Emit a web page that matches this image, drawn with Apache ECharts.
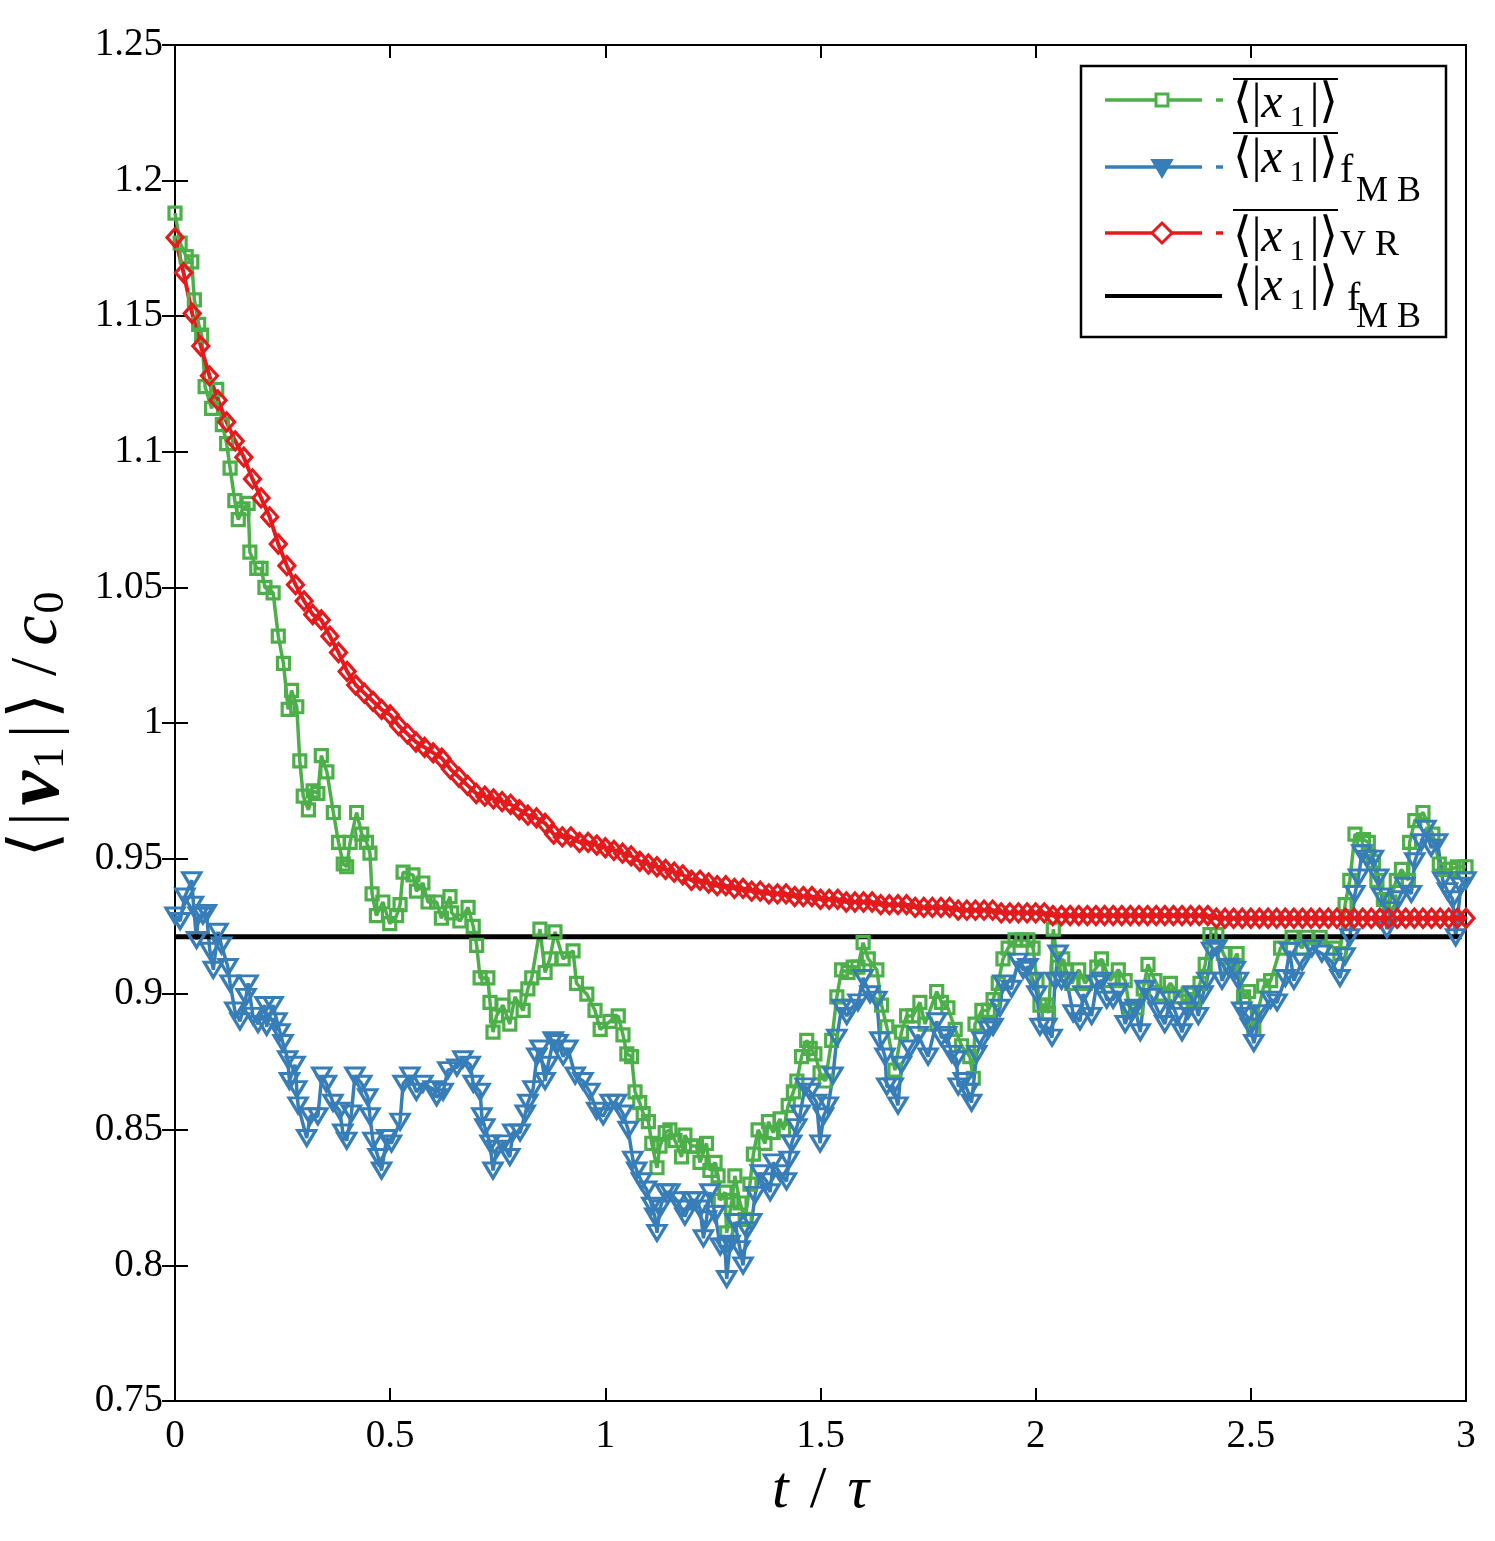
<!DOCTYPE html>
<html>
<head>
<meta charset="utf-8">
<script src="https://cdn.jsdelivr.net/npm/echarts@6/dist/echarts.min.js"></script>
<style>
html,body{margin:0;padding:0;background:#fff;}
#c{width:1495px;height:1541px;}
</style>
</head>
<body>
<div id="c"></div>
<script>
// ---------------- data ----------------
const xTicks = [0, 0.5, 1, 1.5, 2, 2.5, 3];
const yTicks = [0.75, 0.8, 0.85, 0.9, 0.95, 1, 1.05, 1.1, 1.15, 1.2, 1.25];

// green: time-average <|x1|>  [t/tau, value]
const greenData = [
[0.000,1.188],[0.012,1.177],[0.026,1.172],[0.039,1.170],[0.045,1.156],[0.055,1.147],[0.062,1.143],
[0.070,1.124],[0.085,1.116],[0.097,1.123],[0.110,1.110],[0.120,1.103],[0.128,1.094],[0.139,1.082],
[0.147,1.075],[0.158,1.079],[0.170,1.081],[0.174,1.063],[0.190,1.057],[0.200,1.057],[0.209,1.050],
[0.228,1.048],[0.240,1.032],[0.252,1.022],[0.263,1.005],[0.271,1.012],[0.283,1.006],[0.290,0.986],
[0.298,0.973],[0.310,0.968],[0.321,0.975],[0.332,0.974],[0.340,0.988],[0.353,0.982],[0.368,0.967],
[0.380,0.956],[0.391,0.948],[0.399,0.947],[0.407,0.956],[0.422,0.967],[0.434,0.959],[0.445,0.956],
[0.453,0.952],[0.458,0.937],[0.468,0.929],[0.483,0.934],[0.499,0.926],[0.515,0.929],[0.523,0.933],
[0.530,0.945],[0.553,0.944],[0.561,0.938],[0.576,0.941],[0.588,0.934],[0.608,0.934],[0.619,0.928],
[0.639,0.936],[0.643,0.930],[0.662,0.927],[0.681,0.932],[0.693,0.925],[0.701,0.918],[0.709,0.906],
[0.727,0.906],[0.732,0.897],[0.739,0.886],[0.747,0.892],[0.762,0.896],[0.778,0.889],[0.790,0.899],
[0.809,0.894],[0.820,0.902],[0.829,0.906],[0.848,0.924],[0.860,0.908],[0.871,0.913],[0.883,0.923],
[0.902,0.913],[0.925,0.916],[0.933,0.904],[0.957,0.900],[0.976,0.894],[0.988,0.887],[1.011,0.890],
[1.030,0.892],[1.041,0.885],[1.050,0.878],[1.061,0.877],[1.069,0.864],[1.080,0.860],[1.088,0.856],
[1.100,0.853],[1.108,0.845],[1.120,0.836],[1.127,0.844],[1.139,0.849],[1.150,0.850],[1.162,0.846],
[1.177,0.840],[1.185,0.848],[1.200,0.844],[1.212,0.844],[1.220,0.838],[1.235,0.845],[1.243,0.835],
[1.255,0.838],[1.262,0.833],[1.267,0.824],[1.278,0.827],[1.282,0.812],[1.294,0.824],[1.301,0.833],
[1.313,0.823],[1.325,0.817],[1.336,0.830],[1.344,0.841],[1.355,0.850],[1.371,0.845],[1.379,0.853],
[1.390,0.849],[1.406,0.854],[1.414,0.850],[1.425,0.859],[1.437,0.864],[1.445,0.868],[1.456,0.877],
[1.468,0.883],[1.476,0.880],[1.487,0.878],[1.499,0.871],[1.511,0.868],[1.526,0.883],[1.538,0.899],
[1.549,0.909],[1.564,0.908],[1.576,0.910],[1.587,0.910],[1.599,0.919],[1.611,0.913],[1.631,0.909],
[1.642,0.896],[1.654,0.888],[1.673,0.872],[1.688,0.886],[1.700,0.892],[1.715,0.892],[1.731,0.897],
[1.743,0.889],[1.770,0.901],[1.781,0.897],[1.796,0.895],[1.813,0.887],[1.828,0.881],[1.847,0.877],
[1.855,0.869],[1.859,0.889],[1.875,0.894],[1.890,0.894],[1.901,0.898],[1.913,0.904],[1.924,0.913],
[1.936,0.917],[1.952,0.920],[1.968,0.920],[1.982,0.920],[1.994,0.917],[2.003,0.905],[2.010,0.896],
[2.026,0.896],[2.030,0.893],[2.041,0.924],[2.052,0.910],[2.063,0.913],[2.070,0.909],[2.084,0.904],
[2.100,0.909],[2.115,0.904],[2.142,0.910],[2.153,0.913],[2.173,0.905],[2.192,0.909],[2.208,0.905],
[2.219,0.894],[2.235,0.895],[2.250,0.902],[2.261,0.911],[2.277,0.905],[2.296,0.900],[2.313,0.904],
[2.336,0.899],[2.354,0.900],[2.366,0.898],[2.382,0.904],[2.394,0.911],[2.405,0.922],[2.421,0.922],
[2.436,0.915],[2.452,0.910],[2.468,0.915],[2.483,0.899],[2.495,0.901],[2.507,0.887],[2.530,0.903],
[2.546,0.905],[2.569,0.917],[2.596,0.921],[2.619,0.917],[2.630,0.921],[2.661,0.921],[2.693,0.917],
[2.707,0.915],[2.719,0.933],[2.730,0.942],[2.742,0.959],[2.762,0.957],[2.773,0.956],[2.785,0.949],
[2.793,0.942],[2.808,0.935],[2.823,0.934],[2.838,0.942],[2.850,0.946],[2.866,0.942],[2.869,0.956],
[2.881,0.964],[2.900,0.967],[2.923,0.959],[2.938,0.948],[2.950,0.946],[2.965,0.946],[2.980,0.947],
[3.000,0.947]
];

// blue: time-average <|x1|> with f_MB
const blueData = [
[0.000,0.929],[0.012,0.927],[0.023,0.936],[0.039,0.942],[0.043,0.933],[0.050,0.920],[0.054,0.929],
[0.065,0.929],[0.073,0.930],[0.081,0.916],[0.089,0.909],[0.100,0.923],[0.108,0.918],[0.123,0.910],
[0.128,0.904],[0.139,0.894],[0.151,0.890],[0.165,0.899],[0.170,0.904],[0.181,0.892],[0.193,0.889],
[0.209,0.896],[0.213,0.888],[0.228,0.896],[0.237,0.890],[0.244,0.886],[0.251,0.882],[0.262,0.876],
[0.266,0.868],[0.279,0.874],[0.283,0.865],[0.286,0.859],[0.306,0.847],[0.314,0.855],[0.332,0.855],
[0.341,0.870],[0.352,0.867],[0.367,0.860],[0.383,0.857],[0.390,0.849],[0.399,0.846],[0.410,0.856],
[0.418,0.870],[0.434,0.867],[0.448,0.862],[0.453,0.855],[0.460,0.846],[0.472,0.840],[0.480,0.835],
[0.492,0.847],[0.503,0.845],[0.523,0.853],[0.530,0.867],[0.546,0.870],[0.561,0.864],[0.576,0.867],
[0.600,0.865],[0.608,0.862],[0.623,0.864],[0.634,0.872],[0.655,0.873],[0.669,0.876],[0.686,0.874],
[0.693,0.867],[0.709,0.864],[0.713,0.855],[0.720,0.851],[0.732,0.845],[0.739,0.835],[0.748,0.843],
[0.762,0.845],[0.778,0.840],[0.785,0.849],[0.802,0.849],[0.814,0.856],[0.820,0.860],[0.832,0.865],
[0.841,0.877],[0.848,0.880],[0.860,0.868],[0.867,0.874],[0.879,0.883],[0.890,0.882],[0.902,0.877],
[0.913,0.880],[0.930,0.870],[0.948,0.868],[0.964,0.864],[0.980,0.857],[0.995,0.855],[1.011,0.860],
[1.026,0.860],[1.041,0.856],[1.053,0.850],[1.064,0.839],[1.073,0.835],[1.084,0.831],[1.096,0.828],
[1.108,0.822],[1.115,0.818],[1.120,0.812],[1.127,0.821],[1.139,0.827],[1.150,0.827],[1.166,0.824],
[1.177,0.821],[1.185,0.818],[1.200,0.824],[1.212,0.824],[1.220,0.821],[1.228,0.810],[1.235,0.817],
[1.243,0.827],[1.255,0.819],[1.267,0.807],[1.278,0.807],[1.282,0.795],[1.290,0.808],[1.301,0.816],
[1.313,0.806],[1.320,0.800],[1.329,0.813],[1.340,0.816],[1.348,0.826],[1.360,0.834],[1.375,0.831],
[1.383,0.827],[1.390,0.838],[1.406,0.834],[1.421,0.831],[1.427,0.839],[1.433,0.845],[1.445,0.851],
[1.453,0.856],[1.464,0.866],[1.476,0.864],[1.491,0.860],[1.499,0.845],[1.507,0.855],[1.518,0.859],
[1.529,0.870],[1.538,0.884],[1.549,0.895],[1.561,0.892],[1.572,0.895],[1.587,0.897],[1.599,0.906],
[1.615,0.900],[1.631,0.898],[1.638,0.883],[1.650,0.877],[1.654,0.866],[1.669,0.866],[1.680,0.859],
[1.688,0.874],[1.708,0.880],[1.727,0.885],[1.750,0.877],[1.770,0.890],[1.781,0.884],[1.793,0.885],
[1.805,0.878],[1.816,0.876],[1.820,0.866],[1.832,0.868],[1.843,0.864],[1.851,0.860],[1.863,0.878],
[1.875,0.883],[1.890,0.887],[1.901,0.888],[1.917,0.895],[1.924,0.904],[1.944,0.902],[1.959,0.912],
[1.971,0.909],[1.982,0.910],[1.994,0.905],[2.003,0.900],[2.010,0.888],[2.026,0.888],[2.038,0.884],
[2.045,0.905],[2.052,0.915],[2.060,0.905],[2.072,0.905],[2.087,0.893],[2.103,0.890],[2.110,0.900],
[2.130,0.892],[2.142,0.904],[2.153,0.905],[2.165,0.898],[2.180,0.898],[2.192,0.901],[2.208,0.889],
[2.219,0.894],[2.231,0.895],[2.243,0.886],[2.254,0.902],[2.269,0.899],[2.284,0.894],[2.300,0.889],
[2.313,0.898],[2.328,0.892],[2.340,0.886],[2.354,0.894],[2.366,0.900],[2.378,0.892],[2.389,0.900],
[2.398,0.905],[2.409,0.916],[2.421,0.917],[2.433,0.905],[2.448,0.910],[2.464,0.909],[2.471,0.905],
[2.479,0.894],[2.491,0.892],[2.499,0.888],[2.507,0.882],[2.523,0.893],[2.546,0.898],[2.561,0.897],
[2.580,0.906],[2.590,0.916],[2.600,0.905],[2.619,0.912],[2.642,0.917],[2.665,0.915],[2.688,0.912],
[2.707,0.906],[2.719,0.914],[2.730,0.921],[2.742,0.937],[2.750,0.943],[2.758,0.952],[2.770,0.950],
[2.785,0.950],[2.797,0.943],[2.804,0.936],[2.816,0.924],[2.827,0.931],[2.843,0.935],[2.858,0.940],
[2.873,0.937],[2.881,0.949],[2.896,0.956],[2.907,0.961],[2.919,0.954],[2.934,0.956],[2.946,0.942],
[2.957,0.938],[2.969,0.935],[2.976,0.921],[2.988,0.940],[3.000,0.942]
];

const redStep = 0.02;
const redValues = [
1.179,1.166,1.151,1.139,1.128,1.119,1.111,1.104,1.098,1.090,
1.083,1.076,1.066,1.058,1.051,1.045,1.040,1.038,1.032,1.026,
1.019,1.014,1.011,1.008,1.005,1.003,0.999,0.996,0.993,0.991,
0.989,0.987,0.983,0.980,0.977,0.974,0.973,0.972,0.971,0.970,
0.968,0.966,0.965,0.963,0.959,0.958,0.958,0.956,0.956,0.955,
0.954,0.953,0.952,0.951,0.949,0.948,0.947,0.946,0.945,0.944,
0.942,0.942,0.941,0.940,0.940,0.939,0.939,0.938,0.938,0.937,
0.937,0.937,0.936,0.936,0.936,0.935,0.935,0.935,0.934,0.934,
0.934,0.934,0.933,0.933,0.933,0.933,0.932,0.932,0.932,0.932,
0.932,0.931,0.931,0.931,0.931,0.931,0.930,0.930,0.930,0.930,
0.930,0.930,0.929,0.929,0.929,0.929,0.929,0.929,0.929,0.929,
0.929,0.929,0.929,0.929,0.929,0.929,0.929,0.929,0.929,0.929,
0.929,0.928,0.928,0.928,0.928,0.928,0.928,0.928,0.928,0.928,
0.928,0.928,0.928,0.928,0.928,0.928,0.928,0.928,0.928,0.928,
0.928,0.928,0.928,0.928,0.928,0.928,0.928,0.928,0.928,0.928,
0.928
];

// black: <|x1|> for f_MB (constant)
const mbLevel = 0.9212;
const mbRange = [0, 2.99];

// ---------------- chart ----------------
const FONT = '"Liberation Serif","DejaVu Serif",serif';
const GREEN = '#4daf4a', BLUE = '#377eb8', RED = '#e41a1c';

const redData = redValues.map((v, i) => [+(i * redStep).toFixed(2), v]);
const mbData = mbRange.map(t => [t, mbLevel]);

function fmt(v) { return String(Math.round(v * 100) / 100); }

const chart = echarts.init(document.getElementById('c'), null, {renderer: 'canvas'});

const yAxisBase = {
  type: 'value', min: yTicks[0], max: yTicks[yTicks.length - 1], interval: 0.05,
  splitLine: {show: false},
  axisLine: {show: true, lineStyle: {color: '#000', width: 2}},
  axisTick: {show: true, inside: true, length: 13, lineStyle: {color: '#000', width: 2}}
};
const xAxisBase = {
  type: 'value', min: xTicks[0], max: xTicks[xTicks.length - 1], interval: 0.5,
  splitLine: {show: false},
  axisLine: {show: true, onZero: false, lineStyle: {color: '#000', width: 2}},
  axisTick: {show: true, inside: true, length: 13, lineStyle: {color: '#000', width: 2}}
};

const legendText = (x, y, size) => ({
  type: 'text', x: x, y: y, z: 101,
  style: {
    text: '{n|⟨|}{i|x}{s|1}{n||⟩}',
    verticalAlign: 'middle', align: 'left',
    rich: {
      n: {fontSize: size, fontFamily: FONT, fill: '#000', lineHeight: 58, verticalAlign: 'middle'},
      i: {fontSize: size, fontFamily: FONT, fontStyle: 'italic', fill: '#000', lineHeight: 58, verticalAlign: 'middle', padding: [0, 7, 0, 0]},
      s: {fontSize: 30, fontFamily: FONT, fill: '#000', lineHeight: 30, verticalAlign: 'bottom', padding: [0, 5, 0, 0]}
    }
  }
});
const plainText = (x, y, text, size) => ({
  type: 'text', x: x, y: y, z: 101,
  style: {text: text, fontSize: size, fontFamily: FONT, fill: '#000', verticalAlign: 'middle', align: 'left'}
});
const hline = (x1, x2, y, color, w) => ({
  type: 'line', z: 101, shape: {x1: x1, y1: y, x2: x2, y2: y},
  style: {stroke: color, lineWidth: w}
});

const graphics = [
  {type: 'rect', z: 100, shape: {x: 1081, y: 66, width: 365, height: 271},
   style: {fill: '#fff', stroke: '#000', lineWidth: 2.5}},
  // entry 1 (green)
  hline(1105, 1202, 100, GREEN, 3.5), hline(1216, 1223, 100, GREEN, 3.5),
  {type: 'rect', z: 102, shape: {x: 1156, y: 94, width: 12, height: 12},
   style: {fill: '#fff', stroke: GREEN, lineWidth: 3}},
  hline(1233, 1338, 79, '#000', 2),
  legendText(1233, 104, 48),
  // entry 2 (blue)
  hline(1105, 1202, 167, BLUE, 3.5), hline(1216, 1223, 167, BLUE, 3.5),
  {type: 'polygon', z: 102, shape: {points: [[1152, 160], [1172, 160], [1162, 177]]},
   style: {fill: BLUE, stroke: BLUE, lineWidth: 2}},
  hline(1233, 1338, 133, '#000', 2),
  legendText(1233, 159, 48),
  plainText(1340, 171, 'f', 40),
  plainText(1356, 192, 'M B', 36),
  // entry 3 (red)
  hline(1105, 1202, 233, RED, 3.5), hline(1216, 1223, 233, RED, 3.5),
  {type: 'polygon', z: 102, shape: {points: [[1162, 223], [1172, 233], [1162, 243], [1152, 233]]},
   style: {fill: '#fff', stroke: RED, lineWidth: 3}},
  hline(1233, 1338, 210, '#000', 2),
  legendText(1233, 238, 48),
  plainText(1340, 246, 'V R', 36),
  // entry 4 (black)
  hline(1105, 1222, 296, '#000', 4),
  legendText(1233, 287, 48),
  plainText(1347, 299, 'f', 40),
  plainText(1356, 318, 'M B', 36)
];

const option = {
  backgroundColor: '#fff',
  animation: false,
  grid: {left: 175, right: 29, top: 45, bottom: 140, containLabel: false, outerBoundsMode: 'none',
         show: true, borderColor: '#000', borderWidth: 2, backgroundColor: 'transparent'},
  xAxis: [
    Object.assign({}, xAxisBase, {
      position: 'bottom',
      axisLabel: {show: true, margin: 16, fontSize: 39, fontFamily: FONT, color: '#000', formatter: fmt},
      name: '{i|t} / {i|τ}', nameLocation: 'middle', nameGap: 60,
      nameTextStyle: {fontSize: 60, fontFamily: FONT, color: '#000',
        rich: {i: {fontSize: 60, fontFamily: FONT, fontStyle: 'italic', color: '#000', padding: [0, 6, 0, 6]}}}
    }),
    Object.assign({}, xAxisBase, {position: 'top', axisLabel: {show: false}})
  ],
  yAxis: [
    Object.assign({}, yAxisBase, {
      position: 'left',
      axisLabel: {show: true, margin: 12, fontSize: 39, fontFamily: FONT, color: '#000', formatter: fmt},
      name: '{n|⟨}{n||}{v|v}{s|1}{n||}{n|⟩}{sl|/}{c|c}{s|0}', nameLocation: 'middle', nameGap: 102,
      nameTextStyle: {color: '#000', fontFamily: FONT,
        rich: {
          n: {fontSize: 66, fontFamily: FONT, color: '#000', lineHeight: 70, verticalAlign: 'middle', padding: [0, 3, 0, 3]},
          v: {fontSize: 78, fontFamily: FONT, fontStyle: 'italic', fontWeight: 'bold', color: '#000', lineHeight: 70, verticalAlign: 'middle', padding: [0, 2, 0, 4]},
          sl: {fontSize: 66, fontFamily: FONT, color: '#000', lineHeight: 70, verticalAlign: 'middle', padding: [0, 12, 0, 14]},
          c: {fontSize: 68, fontFamily: FONT, fontStyle: 'italic', color: '#000', lineHeight: 70, verticalAlign: 'middle', padding: [0, 2, 0, 0]},
          s: {fontSize: 44, fontFamily: FONT, color: '#000', lineHeight: 42, verticalAlign: 'bottom', padding: [0, 6, 0, 0]}
        }}
    }),
    Object.assign({}, yAxisBase, {position: 'right', axisLabel: {show: false}})
  ],
  series: [
    {name: 'green', type: 'line', data: greenData, clip: false,
     symbol: 'rect', symbolSize: 12,
     lineStyle: {color: GREEN, width: 3.5},
     itemStyle: {color: 'none', borderColor: GREEN, borderWidth: 3.2}},
    {name: 'blue', type: 'line', data: blueData, clip: false,
     symbol: 'triangle', symbolSize: [18, 15], symbolRotate: 180,
     lineStyle: {color: BLUE, width: 3.5},
     itemStyle: {color: 'none', borderColor: BLUE, borderWidth: 3.2}},
    {name: 'red', type: 'line', data: redData, clip: false,
     symbol: 'diamond', symbolSize: [16, 18],
     lineStyle: {color: RED, width: 4},
     itemStyle: {color: 'none', borderColor: RED, borderWidth: 3.2}},
    {name: 'mb', type: 'line', data: mbData, clip: false,
     symbol: 'none', lineStyle: {color: '#000', width: 5}}
  ],
  graphic: graphics
};
chart.setOption(option);
</script>
</body>
</html>
